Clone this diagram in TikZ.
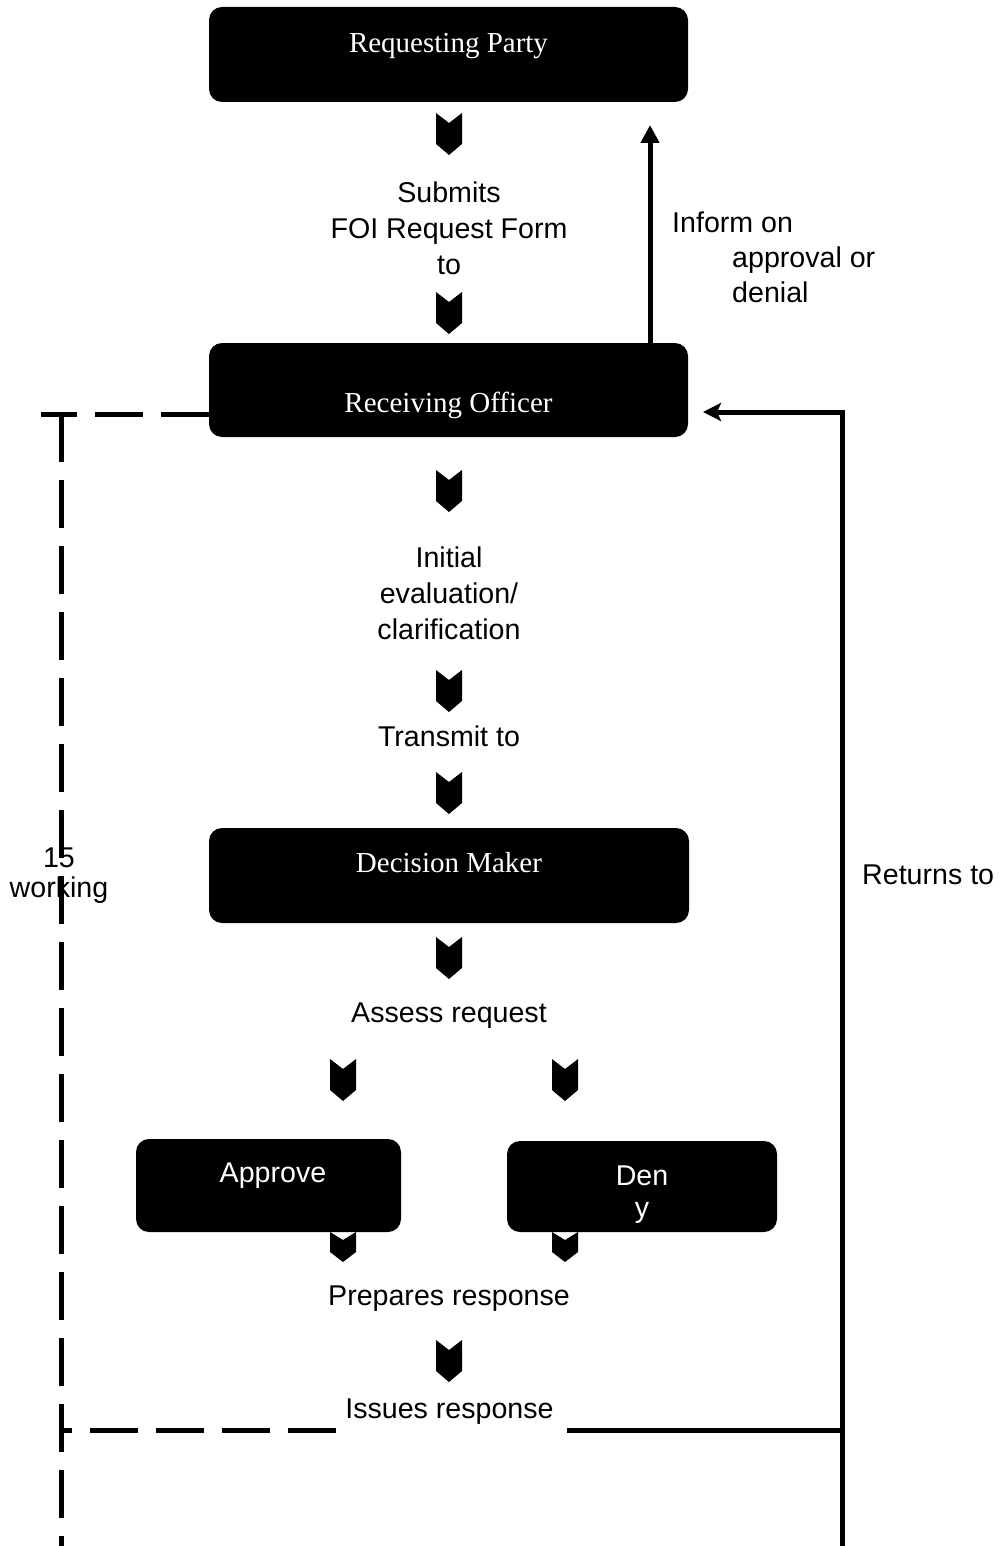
\documentclass[tikz,border=0pt]{standalone}
\usepackage{fontspec}
\setmainfont{Liberation Serif}
\setsansfont{Liberation Sans}
\usetikzlibrary{arrows.meta}
\newcommand{\clines}[1]{\begin{tabular}[t]{@{}c@{}}#1\end{tabular}}
\newcommand{\llines}[1]{\begin{tabular}[t]{@{}l@{}}#1\end{tabular}}
\begin{document}
\begin{tikzpicture}[x=1pt,y=-1pt,
  box/.style={fill=black, rounded corners=13pt, inner sep=0pt, text=white,
    font=\rmfamily\fontsize{29}{34}\selectfont},
  sbox/.style={box, font=\sffamily\fontsize{28.6}{32}\selectfont},
  lbl/.style={font=\sffamily\fontsize{28.6}{36}\selectfont, inner sep=0pt, anchor=base},
  conn/.style={line width=5pt},
  dsh/.style={line width=5pt, dash pattern=on 48pt off 18pt},
  chev/.pic={\fill (-13,0) -- (0,10) -- (13,0) -- (13,31) -- (0,42) -- (-13,31) -- cycle;},
  chevshort/.pic={\fill (-13,0) -- (0,8) -- (13,0) -- (13,20) -- (0,30) -- (-13,20) -- cycle;}
]
\useasboundingbox (0,0) rectangle (1003,1546);

% chevron block arrows
\pic at (449,113) {chev};
\pic at (449,292) {chev};
\pic at (449,470) {chev};
\pic at (449,670) {chev};
\pic at (449,772) {chev};
\pic at (449,937) {chev};
\pic at (343,1059) {chev};
\pic at (565,1059) {chev};
\pic at (343,1232) {chevshort};
\pic at (565,1232) {chevshort};
\pic at (449,1340) {chev};

% boxes
\node[box, minimum width=479pt, minimum height=95pt] (rp) at (448.5,54.5)
  {\raisebox{1.5pt}[0pt][0pt]{Requesting Party}};
\node[box, minimum width=479pt, minimum height=94pt] (ro) at (448.5,390)
  {\raisebox{-22pt}[0pt][0pt]{Receiving Officer}};
\node[box, minimum width=480pt, minimum height=95pt] (dm) at (449,875.5)
  {\raisebox{3.5pt}[0pt][0pt]{Decision Maker}};
\node[sbox, minimum width=265pt, minimum height=93pt] (ap) at (268.5,1185.5)
  {\raisebox{3.5pt}[0pt][0pt]{\hspace*{9pt}Approve}};
\node[sbox, minimum width=270pt, minimum height=91pt] (dn) at (642,1186.5)
  {\raisebox{1.5pt}[0pt][0pt]{\clines{Den\\y}}};

% labels
\node[lbl] (submits) at (449,203) {\clines{Submits\\FOI Request Form\\to}};
\node[lbl, anchor=base west, font=\sffamily\fontsize{28.6}{35}\selectfont] (inform) at (672,233)
  {\llines{Inform on\\\hspace*{60pt}approval or\\\hspace*{60pt}denial}};
\node[lbl] (initial) at (449,567) {\clines{Initial\\evaluation/\\clarification}};
\node[lbl] (transmit) at (449,746) {Transmit to};
\node[lbl] (assess) at (449,1022) {Assess request};
\node[lbl] (prepares) at (449,1305) {Prepares response};
\node[lbl] (issues) at (449.5,1418) {Issues response};
\node[lbl, font=\sffamily\fontsize{28.6}{30}\selectfont] (days) at (59,867) {\clines{15\\working}};
\node[lbl, anchor=base west] (returns) at (862,884) {Returns to};

% coordinates
\coordinate (upTip) at (650,125);
\coordinate (retBot) at (842,1546);
\coordinate (retTip) at (703,412);
\coordinate (issR) at (567,1430);
\coordinate (issL) at (336,1430);
\coordinate (dTop) at (61,414);
\coordinate (dBot) at (61,1546);
\coordinate (dTL) at (41,414);

% connectors
\draw[conn, -{Triangle[length=18pt,width=18pt]}] (ro.north -| upTip) -- (upTip);
\draw[conn, -{Stealth[length=18pt,width=18pt,inset=4pt]}] (retBot) |- (retTip);
\draw[conn] (issR) -- (issR -| retBot);
\draw[dsh] (ro.west |- dTop) -- (dTL);
\draw[dsh] (dTop) -- (dBot);
\draw[dsh] (issL) -- (issL -| dTop);
\end{tikzpicture}
\end{document}
